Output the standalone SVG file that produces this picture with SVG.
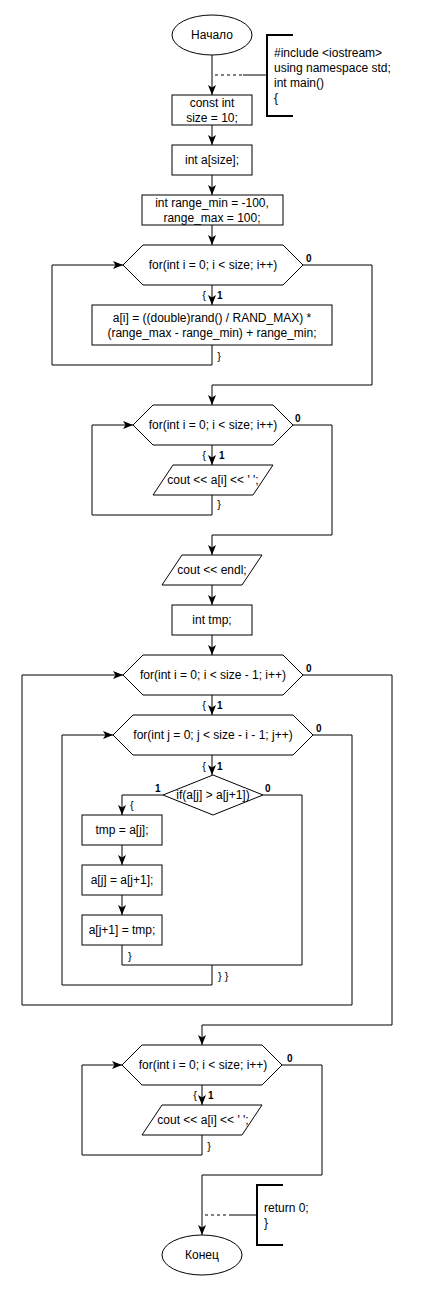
<svg xmlns="http://www.w3.org/2000/svg" width="428" height="1291" viewBox="0 0 428 1291">
<style>
.n{fill:#fff;stroke:#000;stroke-width:1}
.t{font-family:"Liberation Sans",Arial,sans-serif;font-size:12px;fill:#000;text-anchor:middle}
.tl{font-family:"Liberation Sans",Arial,sans-serif;font-size:12px;fill:#000}
.lb{font-family:"Liberation Sans",Arial,sans-serif;font-size:10px;font-weight:bold;fill:#000}
.br{font-family:"Liberation Sans",Arial,sans-serif;font-size:11px;fill:#000}
.c{fill:none;stroke:#000;stroke-width:1}
.ca{fill:none;stroke:#000;stroke-width:1;marker-end:url(#ar)}
.d{fill:none;stroke:#000;stroke-width:1;stroke-dasharray:3,3}
.b{fill:none;stroke:#000;stroke-width:2}
</style>
<defs>
<marker id="ar" markerUnits="userSpaceOnUse" markerWidth="10" markerHeight="10" viewBox="0 0 10 10" refX="10" refY="5" orient="auto">
<path d="M0,1 L10,5 L0,9 L2.5,5 z" fill="#000"/>
</marker>
</defs>
<g id="connectors">
<path class="ca" d="M212,55 V95"/>
<path class="ca" d="M212,125 V145"/>
<path class="ca" d="M212,175 V195"/>
<path class="ca" d="M212,225 V245"/>
<path class="ca" d="M212,285 V305"/>
<path class="ca" d="M212,345 V365 H52 V265 H123"/>
<path class="ca" d="M303,265 H372 V385 H212 V405"/>
<path class="ca" d="M212,445 V465"/>
<path class="ca" d="M212,495 V515 H92 V425 H133"/>
<path class="ca" d="M293,425 H332 V535 H212 V555"/>
<path class="ca" d="M212,585 V605"/>
<path class="ca" d="M212,635 V655"/>
<path class="ca" d="M212,695 V715"/>
<path class="ca" d="M212,755 V775"/>
<path class="ca" d="M163,795 H122 V815"/>
<path class="ca" d="M122,845 V865"/>
<path class="ca" d="M122,895 V915"/>
<path class="c" d="M122,945 V965 H302"/>
<path class="c" d="M263,795 H302 V965"/>
<path class="ca" d="M212,965 V985 H62 V735 H113"/>
<path class="ca" d="M313,735 H352 V1005 H22 V675 H123"/>
<path class="ca" d="M303,675 H392 V1025 H202 V1045"/>
<path class="ca" d="M202,1085 V1105"/>
<path class="ca" d="M202,1135 V1155 H82 V1065 H122"/>
<path class="ca" d="M282,1065 H322 V1175 H202 V1235"/>
<path class="d" d="M215,75 H243"/>
<path class="d" d="M205,1215 H232"/>
</g>
<g id="start">
<ellipse class="n" cx="212" cy="35" rx="40" ry="20"/>
<text class="t" x="212" y="39">Начало</text>
</g>
<g id="note1">
<path class="c" d="M243,75 H267"/>
<path class="b" d="M293,35 H267 V116 H293"/>
<text class="tl" x="274" y="57">#include &lt;iostream&gt;</text>
<text class="tl" x="274" y="72">using namespace std;</text>
<text class="tl" x="274" y="87">int main()</text>
<text class="tl" x="274" y="102">{</text>
</g>
<g id="const">
<rect class="n" x="172" y="95" width="80" height="30"/>
<text class="t" x="212" y="107">const int</text>
<text class="t" x="212" y="122">size = 10;</text>
</g>
<g id="arr">
<rect class="n" x="172" y="145" width="80" height="30"/>
<text class="t" x="212" y="164">int a[size];</text>
</g>
<g id="range">
<rect class="n" x="142" y="195" width="141" height="30"/>
<text class="t" x="212" y="207">int range_min = -100,</text>
<text class="t" x="212" y="222">range_max = 100;</text>
</g>
<g id="for1">
<path class="n" d="M123,265 L143,245 H283 L303,265 L283,285 H143 Z"/>
<text class="t" x="213" y="269">for(int i = 0; i &lt; size; i++)</text>
<text class="lb" x="306" y="262">0</text>
<text class="br" x="204" y="299" text-anchor="middle">{</text>
<text class="lb" x="217" y="299">1</text>
</g>
<g id="fill">
<rect class="n" x="92" y="305" width="240" height="40"/>
<text class="t" x="212" y="322">a[i] = ((double)rand() / RAND_MAX) *</text>
<text class="t" x="212" y="337">(range_max - range_min) + range_min;</text>
<text class="br" x="219" y="360" text-anchor="middle">}</text>
</g>
<g id="for2">
<path class="n" d="M133,425 L153,405 H273 L293,425 L273,445 H153 Z"/>
<text class="t" x="213" y="429">for(int i = 0; i &lt; size; i++)</text>
<text class="lb" x="295" y="422">0</text>
<text class="br" x="204" y="459" text-anchor="middle">{</text>
<text class="lb" x="219" y="459">1</text>
</g>
<g id="out1">
<path class="n" d="M173,465 H273 L253,495 H153 Z"/>
<text class="t" x="213" y="484">cout &lt;&lt; a[i] &lt;&lt; ' ';</text>
<text class="br" x="219" y="508" text-anchor="middle">}</text>
</g>
<g id="endl">
<path class="n" d="M182,555 H262 L242,585 H162 Z"/>
<text class="t" x="212" y="574">cout &lt;&lt; endl;</text>
</g>
<g id="tmpdecl">
<rect class="n" x="172" y="605" width="80" height="30"/>
<text class="t" x="212" y="624">int tmp;</text>
</g>
<g id="for3">
<path class="n" d="M123,675 L143,655 H283 L303,675 L283,695 H143 Z"/>
<text class="t" x="213" y="679">for(int i = 0; i &lt; size - 1; i++)</text>
<text class="lb" x="306" y="672">0</text>
<text class="br" x="204" y="709" text-anchor="middle">{</text>
<text class="lb" x="217" y="709">1</text>
</g>
<g id="for4">
<path class="n" d="M113,735 L133,715 H293 L313,735 L293,755 H133 Z"/>
<text class="t" x="213" y="739">for(int j = 0; j &lt; size - i - 1; j++)</text>
<text class="lb" x="316" y="732">0</text>
<text class="br" x="204" y="770" text-anchor="middle">{</text>
<text class="lb" x="217" y="770">1</text>
</g>
<g id="if">
<path class="n" d="M163,795 L213,775 L263,795 L213,815 Z"/>
<text class="t" x="213" y="799">if(a[j] &gt; a[j+1])</text>
<text class="lb" x="155" y="792">1</text>
<text class="lb" x="265" y="792">0</text>
<text class="br" x="130" y="809">{</text>
</g>
<g id="swap1">
<rect class="n" x="82" y="815" width="80" height="30"/>
<text class="t" x="122" y="834">tmp = a[j];</text>
</g>
<g id="swap2">
<rect class="n" x="82" y="865" width="80" height="30"/>
<text class="t" x="122" y="884">a[j] = a[j+1];</text>
</g>
<g id="swap3">
<rect class="n" x="82" y="915" width="80" height="30"/>
<text class="t" x="122" y="934">a[j+1] = tmp;</text>
<text class="br" x="128" y="960">}</text>
<text class="br" x="218" y="980">} }</text>
</g>
<g id="for5">
<path class="n" d="M122,1065 L142,1045 H262 L282,1065 L262,1085 H142 Z"/>
<text class="t" x="203" y="1069">for(int i = 0; i &lt; size; i++)</text>
<text class="lb" x="287" y="1062">0</text>
<text class="br" x="195" y="1099" text-anchor="middle">{</text>
<text class="lb" x="208" y="1099">1</text>
</g>
<g id="out2">
<path class="n" d="M162,1105 H262 L242,1135 H142 Z"/>
<text class="t" x="203" y="1124">cout &lt;&lt; a[i] &lt;&lt; ' ';</text>
<text class="br" x="209" y="1150" text-anchor="middle">}</text>
</g>
<g id="note2">
<path class="c" d="M232,1215 H257"/>
<path class="b" d="M283,1185 H257 V1245 H283"/>
<text class="tl" x="264" y="1212">return 0;</text>
<text class="tl" x="264" y="1227">}</text>
</g>
<g id="end">
<ellipse class="n" cx="202" cy="1255" rx="40" ry="20"/>
<text class="t" x="202" y="1259">Конец</text>
</g>
</svg>
